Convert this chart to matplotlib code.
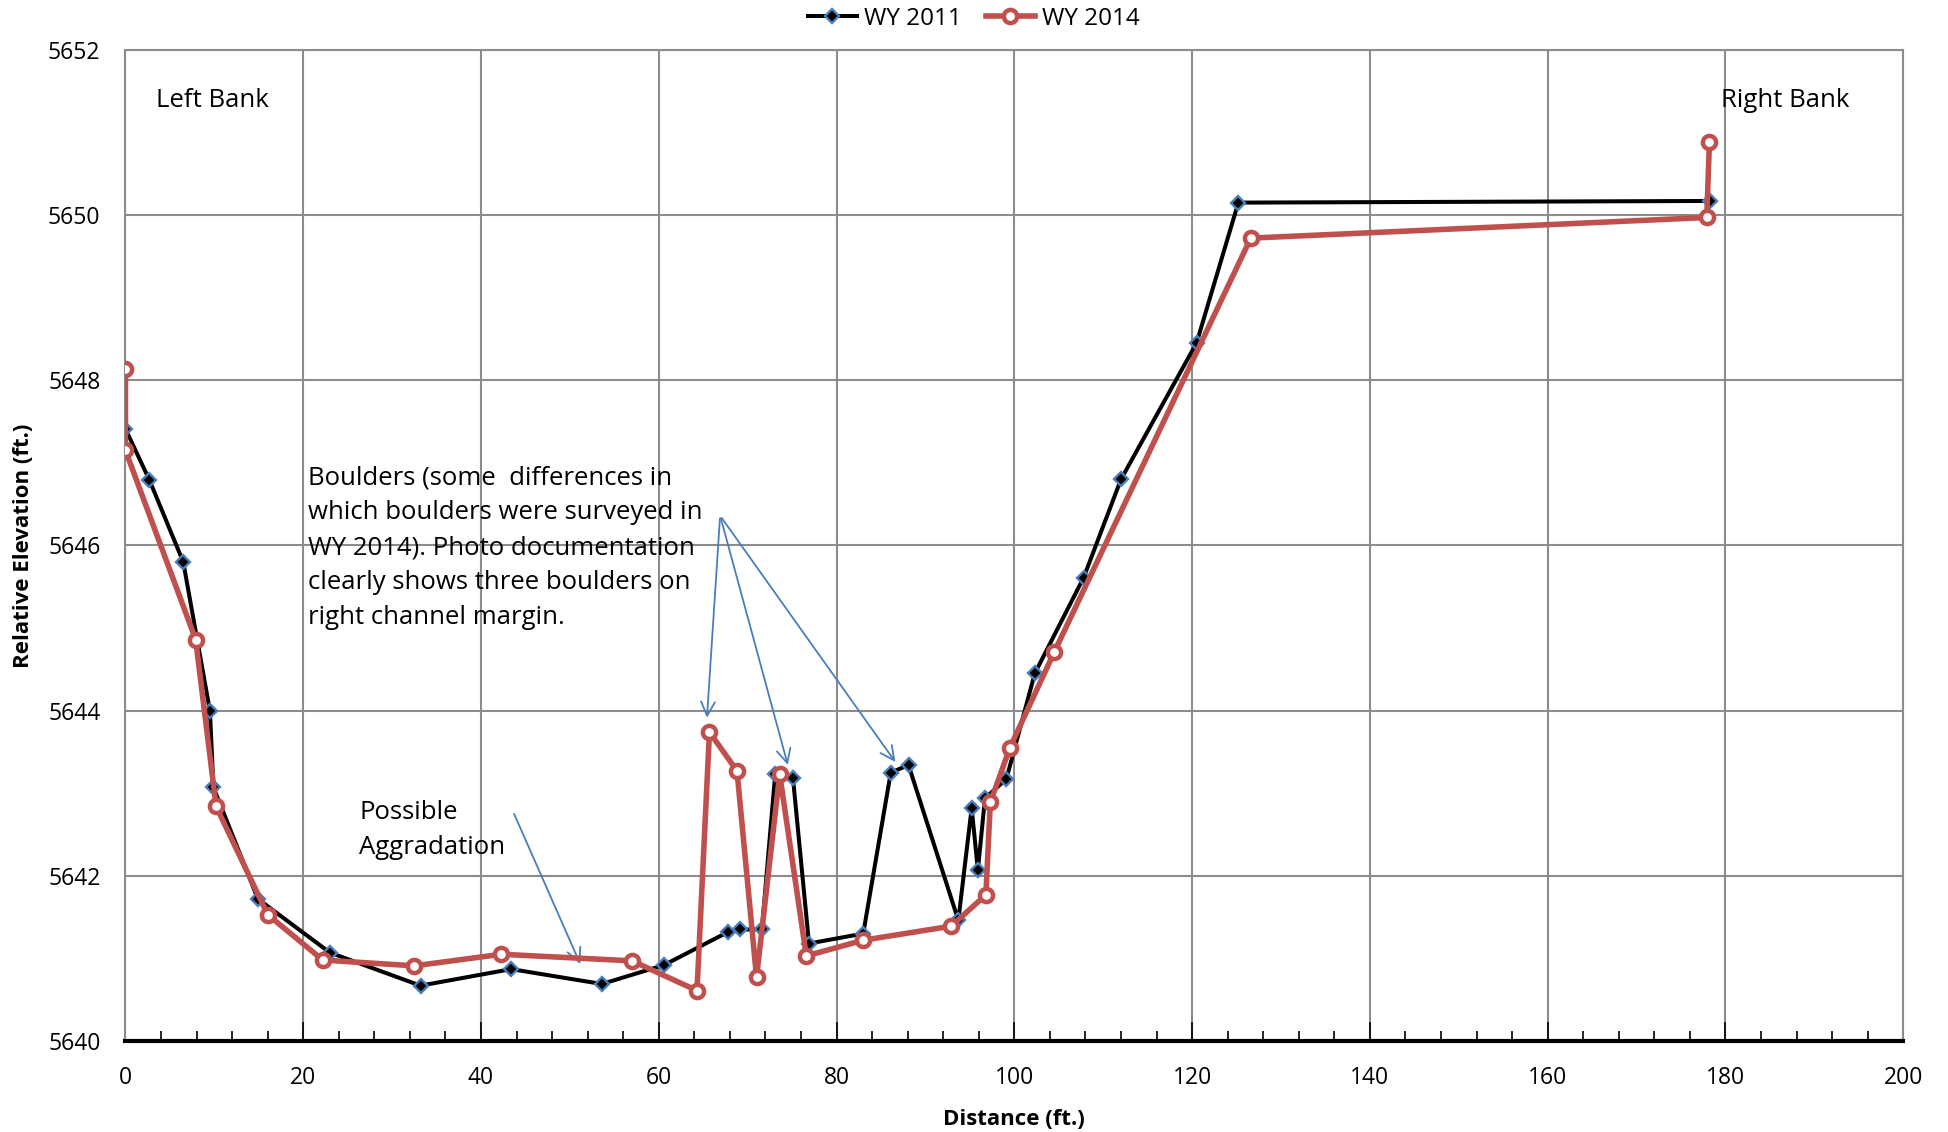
import numpy as np
import matplotlib.pyplot as plt
from matplotlib.ticker import MultipleLocator

# channel cross-section survey
dist_2011 = [0, 2.7, 6.5, 9.5, 9.9, 14.9, 23.0, 33.2, 43.4, 53.6, 60.6, 67.8, 69.1,
             71.6, 73.1, 75.1, 76.9, 83.0, 86.1, 88.1, 93.7, 95.2, 95.9, 96.7, 99.1,
             102.3, 107.8, 112.0, 120.5, 125.2, 178.3]
elev_2011 = [5647.41, 5646.79, 5645.80, 5644.00, 5643.07, 5641.72, 5641.07, 5640.67,
             5640.87, 5640.69, 5640.92, 5641.32, 5641.35, 5641.35, 5643.23, 5643.18,
             5641.18, 5641.30, 5643.25, 5643.34, 5641.46, 5642.82, 5642.07, 5642.94,
             5643.17, 5644.45, 5645.61, 5646.80, 5648.45, 5650.15, 5650.17]

dist_2014 = [0, 0, 7.9, 10.2, 16.0, 22.2, 32.5, 42.3, 57.0, 64.3, 65.7, 68.8, 71.0,
             73.6, 76.6, 83.0, 92.9, 96.8, 97.3, 99.5, 104.5, 126.6, 177.9, 178.2]
elev_2014 = [5648.13, 5647.15, 5644.86, 5642.84, 5641.53, 5640.98, 5640.91, 5641.05,
             5640.97, 5640.61, 5643.74, 5643.27, 5640.77, 5643.23, 5641.03, 5641.22,
             5641.39, 5641.77, 5642.89, 5643.55, 5644.71, 5649.72, 5649.97, 5650.88]

font = "Open Sans"

fig = plt.figure(figsize=(19.48, 11.32), dpi=100)
ax = fig.add_axes([0.0644, 0.0804, 0.9126, 0.8756])

ax.plot(dist_2011, elev_2011, color="black", lw=2.9, marker="D", ms=7.5,
        mfc="black", mec="#4a7ebb", mew=1.7, label="WY 2011", zorder=3)
ax.plot(dist_2014, elev_2014, color="#c0504d", lw=4, marker="o", ms=9.5,
        mfc="white", mec="#c0504d", mew=3.2, label="WY 2014", zorder=4)

ax.set_xlim(0, 200)
ax.set_ylim(5640, 5652)
ax.xaxis.set_major_locator(MultipleLocator(20))
ax.xaxis.set_minor_locator(MultipleLocator(4))
ax.yaxis.set_major_locator(MultipleLocator(2))
ax.grid(True, which="major", color="#8c8c8c", lw=1.5)
ax.set_axisbelow(True)
for s in ["left", "top", "right"]:
    ax.spines[s].set_color("#8c8c8c")
    ax.spines[s].set_linewidth(1.5)
ax.spines["bottom"].set_color("black")
ax.spines["bottom"].set_linewidth(3)
ax.tick_params(axis="x", which="major", direction="in", length=14, width=1.2, pad=18)
ax.tick_params(axis="x", which="minor", direction="in", length=7, width=1.2)
ax.tick_params(axis="y", length=0, pad=18)
for lab in ax.get_xticklabels() + ax.get_yticklabels():
    lab.set_fontfamily(font)
    lab.set_fontsize(16.5)

ax.set_xlabel("Distance (ft.)", fontsize=16, fontweight="bold", family=font, labelpad=14)
ax.set_ylabel("Relative Elevation (ft.)", fontsize=16, fontweight="bold", family=font, labelpad=10)

fig.legend(loc="center", bbox_to_anchor=(0.5, 0.9836), ncol=2, frameon=False,
           prop={"family": font, "size": 17.5}, handlelength=2.0, columnspacing=1.0,
           handletextpad=0.3, borderaxespad=0)

ax.text(3.4, 5651.39, "Left Bank", fontsize=18.5, family=font, va="center")
ax.text(179.5, 5651.39, "Right Bank", fontsize=18.5, family=font, va="center")
ax.text(20.5, 5646.97, "Boulders (some  differences in\nwhich boulders were surveyed in\n"
        "WY 2014). Photo documentation\nclearly shows three boulders on\nright channel margin.",
        fontsize=18.5, family=font, va="top", linespacing=1.52)
ax.text(26.3, 5642.55, "Possible\nAggradation", fontsize=18.5, family=font, va="center",
        linespacing=1.52)

arrow = dict(arrowstyle="->", color="#4a7ebb", lw=1.3, mutation_scale=25)
for tx, ty in [(65.4, 5643.88), (74.6, 5643.31), (86.8, 5643.35)]:
    ax.annotate("", xy=(tx, ty), xytext=(66.9, 5646.36), arrowprops=arrow)
ax.annotate("", xy=(51.3, 5640.9), xytext=(43.6, 5642.78), arrowprops=arrow)

fig.savefig("out.png", dpi=100)
